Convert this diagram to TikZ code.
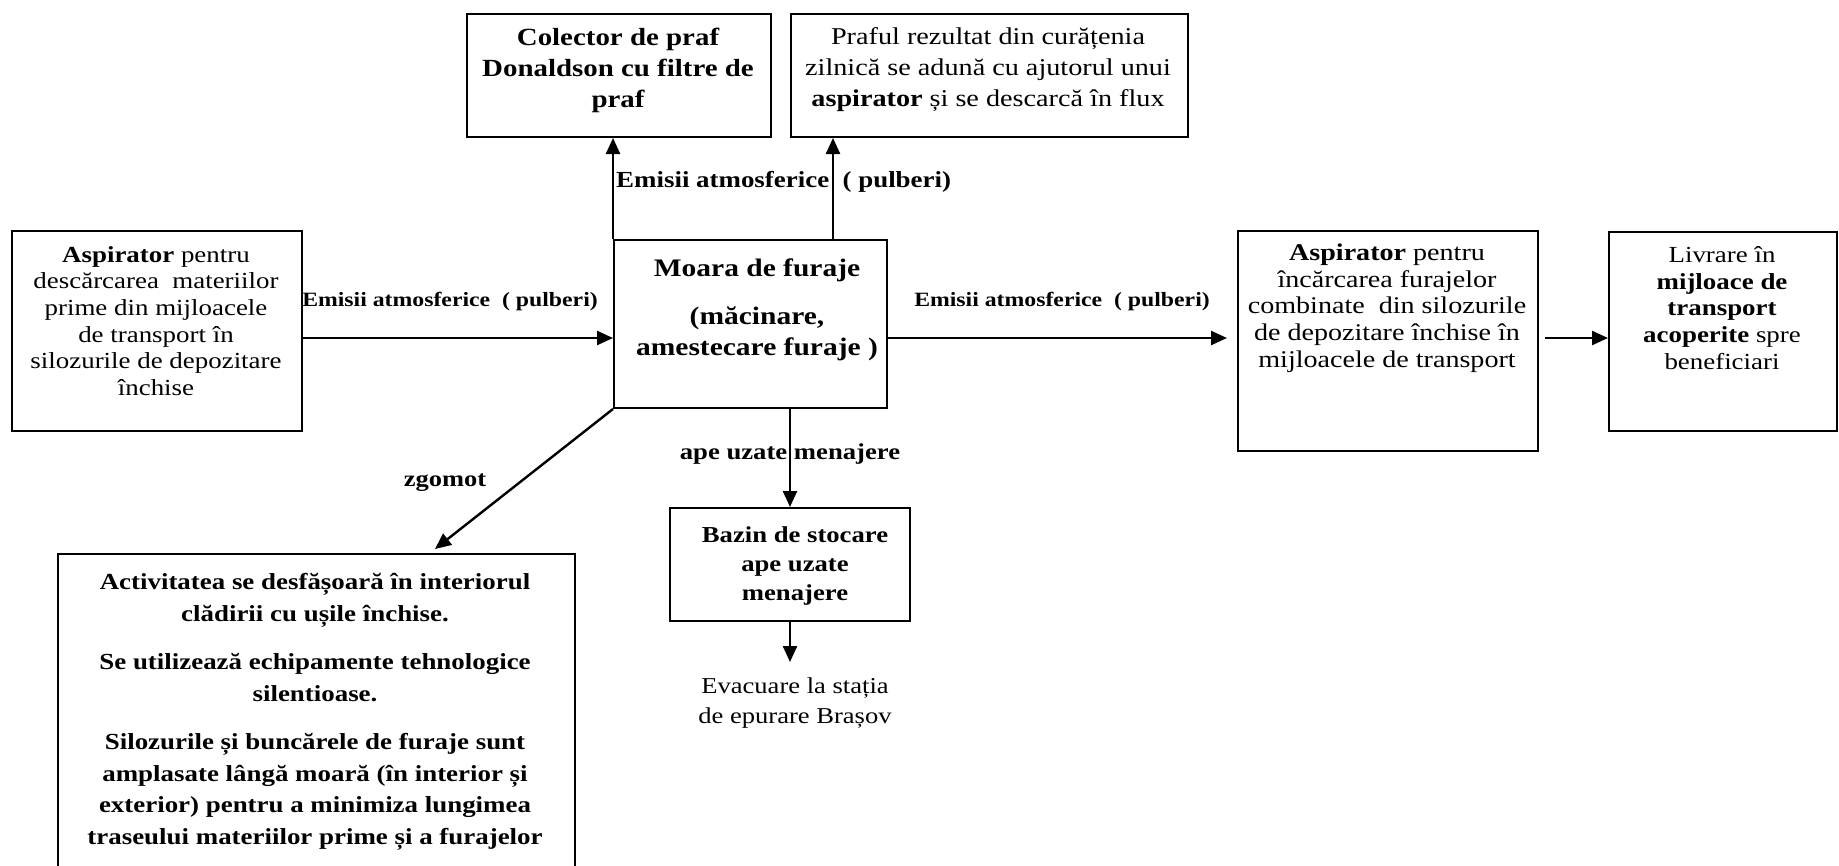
\documentclass[tikz,border=0pt]{standalone}
\usepackage{fontspec}
\setmainfont{Liberation Serif}[FakeStretch=1.17]
\usetikzlibrary{arrows.meta}
\newcommand\setfs[2]{\fontsize{#1}{#2}\selectfont}
\tikzset{
  box/.style={draw, line width=2pt, inner sep=0pt, anchor=north west},
  txt/.style={align=center, inner sep=0pt},
  arr/.style={line width=2.4pt, -{Triangle[length=16pt,width=14pt]}},
  lbl/.style={inner sep=0pt, font=\bfseries\setfs{20.3}{24}},
}
\begin{document}
\begin{tikzpicture}[x=1pt, y=-1pt]
\useasboundingbox (0,0) rectangle (1839,865);

% boxes
\node[box, minimum width=290pt, minimum height=200pt] (src) at (11,230) {};
\node[box, minimum width=304pt, minimum height=123pt] (col) at (466,13) {};
\node[box, minimum width=397pt, minimum height=123pt] (praf) at (790,13) {};
\node[box, minimum width=273pt, minimum height=168pt] (moara) at (613,239) {};
\node[box, minimum width=300pt, minimum height=220pt] (asp) at (1237,230) {};
\node[box, minimum width=228pt, minimum height=199pt] (liv) at (1608,231) {};
\node[box, minimum width=240pt, minimum height=113pt] (baz) at (669,507) {};
\node[box, minimum width=517pt, minimum height=400pt] (act) at (57,553) {};

% box texts
\node[txt, font=\setfs{23}{26.6}] (srcT) at (156,321)
  {\textbf{Aspirator} pentru\\descărcarea\ \ materiilor\\prime din mijloacele\\de transport în\\silozurile de depozitare\\închise};
\node[txt, font=\bfseries\setfs{24.7}{31}] (colT) at (618,70)
  {Colector de praf\\Donaldson cu filtre de\\praf};
\node[txt, font=\setfs{24.1}{31}] (prafT) at (988,70)
  {Praful rezultat din curățenia\\zilnică se adună cu ajutorul unui\\\textbf{aspirator} și se descarcă în flux};
\node[txt, font=\bfseries\setfs{25.2}{31}] (moaraT) at (757,310)
  {Moara de furaje\\[17pt](măcinare,\\amestecare furaje )};
\node[txt, font=\setfs{24}{26.7}] (aspT) at (1387,308)
  {\textbf{Aspirator} pentru\\încărcarea furajelor\\combinate\ \ din silozurile\\de depozitare închise în\\mijloacele de transport};
\node[txt, font=\setfs{23}{26.7}] (livT) at (1722,308)
  {Livrare în\\\textbf{mijloace de}\\\textbf{transport}\\\textbf{acoperite} spre\\beneficiari};
\node[txt, font=\bfseries\setfs{22.8}{29}] (bazT) at (795,566)
  {Bazin de stocare\\ape uzate\\menajere};
\node[txt, font=\setfs{22.7}{30}, anchor=north, inner ysep=16pt] (evac) at (795,662)
  {Evacuare la stația\\de epurare Brașov};
\node[txt, font=\bfseries\setfs{23}{31.5}] (actT) at (315,712)
  {Activitatea se desfășoară în interiorul\\clădirii cu ușile închise.\\[17pt]Se utilizează echipamente tehnologice\\silentioase.\\[17pt]Silozurile și buncărele de furaje sunt\\amplasate lângă moară (în interior și\\exterior) pentru a minimiza lungimea\\traseului materiilor prime și a furajelor};

% connector labels
\node[lbl] (lblL) at (450,302) {Emisii atmosferice\ \ ( pulberi)};
\node[lbl] (lblR) at (1062,302) {Emisii atmosferice\ \ ( pulberi)};
\node[lbl, font=\bfseries\setfs{23}{27}, anchor=west] (lblT) at (616,182) {Emisii atmosferice\ \ ( pulberi)};
\node[lbl, font=\bfseries\setfs{22.8}{27}] (lblD) at (790,454) {ape uzate menajere};
\node[lbl, font=\bfseries\setfs{22.6}{27}] (lblZ) at (445,483) {zgomot};

% helper coordinates
\coordinate (hY) at (0,338);
\coordinate (uR) at (833,0);
\coordinate (zgEnd) at (435,549);

% connectors
\draw[arr] (src.east |- hY) -- (moara.west |- hY);
\draw[arr, shorten >=10pt] (moara.east |- hY) -- (asp.west |- hY);
\draw[arr, shorten <=6pt] (asp.east |- hY) -- (liv.west |- hY);
\draw[arr] (moara.north west) -- (moara.north west |- col.south);
\draw[arr] (moara.north -| uR) -- (praf.south -| uR);
\draw[arr] (baz.north |- moara.south) -- (baz.north);
\draw[arr] (baz.south) -- (baz.south |- evac.north);
\draw[arr] (moara.south west) -- (zgEnd);
\end{tikzpicture}
\end{document}
